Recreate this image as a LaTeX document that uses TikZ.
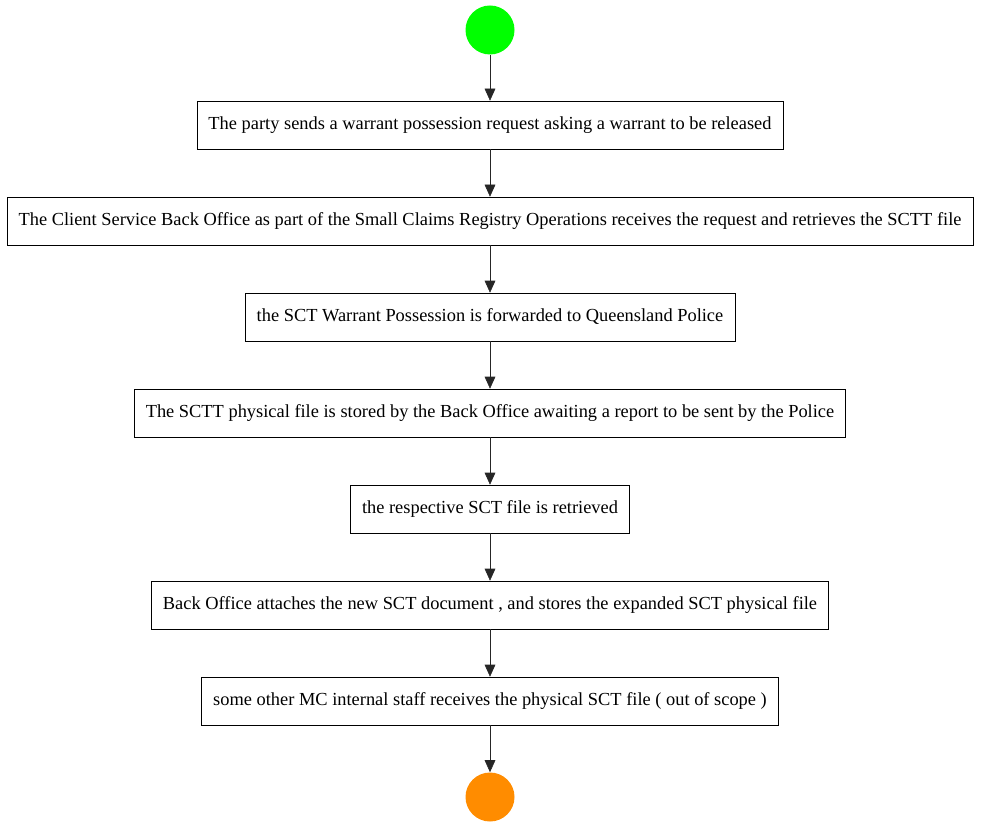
\documentclass[tikz,border=0pt]{standalone}
\usepackage{fontspec}
\setmainfont{Liberation Serif}
\usetikzlibrary{arrows.meta}

\definecolor{startgreen}{HTML}{00FF00}
\definecolor{endorange}{HTML}{FF8C00}
\definecolor{flowgray}{HTML}{262626}

\begin{document}
\begin{tikzpicture}[x=0.75pt, y=-0.75pt,
  activity/.style={draw, thin, rectangle, minimum height=36pt, inner xsep=8.6pt, font=\fontsize{13.8}{15}\selectfont},
  initial/.style={circle, fill=startgreen, minimum size=36.75pt, inner sep=0pt},
  final/.style={circle, fill=endorange, minimum size=36.75pt, inner sep=0pt},
  flow/.style={draw=flowgray, thin, -{Triangle[length=9pt, width=8pt]}}]
  \useasboundingbox (0,0) rectangle (981,827);
  \node [initial] (start) at (490,30) {};
  \node [activity] (request) at (490,125) {The party sends a warrant possession request asking a warrant to be released};
  \node [activity] (retrieve) at (490,221) {The Client Service Back Office as part of the Small Claims Registry Operations receives the request and retrieves the SCTT file};
  \node [activity] (forward) at (490,317) {the SCT Warrant Possession is forwarded to Queensland Police};
  \node [activity] (store) at (490,413) {The SCTT physical file is stored by the Back Office awaiting a report to be sent by the Police};
  \node [activity] (respective) at (490,509) {the respective SCT file is retrieved};
  \node [activity] (attach) at (490,605) {Back Office attaches the new SCT document , and stores the expanded SCT physical file};
  \node [activity] (staff) at (490,701) {some other MC internal staff receives the physical SCT file ( out of scope )};
  \node [final] (end) at (490,797) {};
  % flow between the steps
  \draw [flow] (start) -- (request);
  \draw [flow] (request) -- (retrieve);
  \draw [flow] (retrieve) -- (forward);
  \draw [flow] (forward) -- (store);
  \draw [flow] (store) -- (respective);
  \draw [flow] (respective) -- (attach);
  \draw [flow] (attach) -- (staff);
  \draw [flow] (staff) -- (end);
\end{tikzpicture}
\end{document}
